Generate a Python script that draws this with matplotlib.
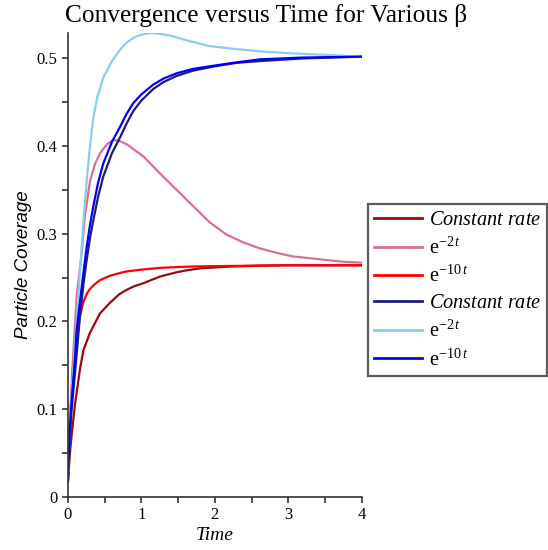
import matplotlib
matplotlib.use("Agg")
import matplotlib.pyplot as plt
from matplotlib.ticker import MultipleLocator

plt.rcParams['mathtext.fontset'] = 'custom'
plt.rcParams['mathtext.rm'] = 'Liberation Serif'
plt.rcParams['mathtext.it'] = 'Liberation Serif:italic'

# --- data ---
t_const1 = [0.0, 0.027, 0.05, 0.095, 0.163, 0.21, 0.3, 0.436, 0.57, 0.7, 0.8, 0.9, 1.03, 1.1, 1.25, 1.48, 1.6, 1.8, 2.0, 2.2, 2.6, 3.0, 3.5, 4.0]
y_const1 = [0.017, 0.05, 0.07, 0.105, 0.145, 0.167, 0.187, 0.209, 0.221, 0.231, 0.236, 0.240, 0.2436, 0.246, 0.251, 0.256, 0.258, 0.2605, 0.2615, 0.2625, 0.2635, 0.264, 0.264, 0.264]

t_exp2_1 = [0.0, 0.03, 0.07, 0.12, 0.19, 0.23, 0.3, 0.37, 0.44, 0.53, 0.62, 0.7, 0.8, 0.9, 1.03, 1.25, 1.48, 1.71, 1.93, 2.16, 2.39, 2.62, 2.85, 3.07, 3.3, 3.52, 3.75, 4.0]
y_exp2_1 = [0.02, 0.09, 0.16, 0.23, 0.28, 0.32, 0.36, 0.38, 0.392, 0.402, 0.407, 0.406, 0.402, 0.396, 0.388, 0.369, 0.35, 0.331, 0.313, 0.299, 0.29, 0.283, 0.278, 0.274, 0.272, 0.27, 0.268, 0.267]

t_exp10_1 = [0.0, 0.03, 0.07, 0.12, 0.16, 0.21, 0.26, 0.3, 0.36, 0.436, 0.57, 0.7, 0.8, 1.0, 1.25, 1.5, 1.71, 2.0, 2.5, 3.0, 4.0]
y_exp10_1 = [0.02, 0.09, 0.15, 0.185, 0.205, 0.222, 0.232, 0.237, 0.242, 0.247, 0.252, 0.255, 0.257, 0.259, 0.261, 0.262, 0.2626, 0.263, 0.2635, 0.264, 0.264]

t_const2 = [0.0, 0.027, 0.05, 0.095, 0.163, 0.21, 0.255, 0.3, 0.345, 0.41, 0.48, 0.6, 0.71, 0.8, 0.89, 1.0, 1.16, 1.3, 1.48, 1.7, 2.0, 2.3, 2.62, 3.2, 4.0]
y_const2 = [0.019, 0.07, 0.1, 0.14, 0.205, 0.242, 0.27, 0.295, 0.315, 0.342, 0.365, 0.392, 0.41, 0.426, 0.44, 0.452, 0.465, 0.473, 0.48, 0.486, 0.491, 0.495, 0.497, 0.5, 0.502]

t_exp2_2 = [0.0, 0.027, 0.05, 0.1, 0.15, 0.187, 0.22, 0.255, 0.3, 0.345, 0.4, 0.48, 0.6, 0.71, 0.8, 0.9, 1.0, 1.12, 1.25, 1.4, 1.6, 1.93, 2.25, 2.62, 3.0, 3.52, 4.0]
y_exp2_2 = [0.02, 0.09, 0.12, 0.18, 0.24, 0.285, 0.325, 0.36, 0.40, 0.432, 0.456, 0.478, 0.497, 0.51, 0.518, 0.524, 0.527, 0.529, 0.528, 0.526, 0.521, 0.514, 0.511, 0.508, 0.506, 0.504, 0.502]

t_exp10_2 = [0.0, 0.027, 0.05, 0.095, 0.118, 0.16, 0.21, 0.255, 0.3, 0.345, 0.41, 0.48, 0.6, 0.71, 0.8, 0.89, 1.0, 1.16, 1.3, 1.48, 1.7, 1.93, 2.25, 2.62, 3.2, 4.0]
y_exp10_2 = [0.019, 0.08, 0.11, 0.156, 0.19, 0.22, 0.255, 0.285, 0.31, 0.331, 0.358, 0.38, 0.405, 0.422, 0.437, 0.449, 0.459, 0.47, 0.477, 0.483, 0.488, 0.491, 0.495, 0.499, 0.501, 0.502]

series = [
    (t_const1, y_const1, '#9b0a0a', r'$\it{Constant\ rate}$'),
    (t_exp2_1, y_exp2_1, '#db7093', r'$\mathrm{e}^{-2\,t}$'),
    (t_exp10_1, y_exp10_1, '#ff0000', r'$\mathrm{e}^{-10\,t}$'),
    (t_const2, y_const2, '#1c1c7a', r'$\it{Constant\ rate}$'),
    (t_exp2_2, y_exp2_2, '#87ceeb', r'$\mathrm{e}^{-2\,t}$'),
    (t_exp10_2, y_exp10_2, '#0000ff', r'$\mathrm{e}^{-10\,t}$'),
]

fig = plt.figure(figsize=(5.48, 5.50), dpi=100)
ax = fig.add_axes([0.124, 0.097, 0.536, 0.843])

for t, y, c, lab in series:
    ax.plot(t, y, color=c, lw=1.6, label=lab, solid_joinstyle='round')

ax.set_xlim(0, 4)
ax.set_ylim(0, 0.529)
ax.spines['top'].set_visible(False)
ax.spines['right'].set_visible(False)
for s in ('left', 'bottom'):
    ax.spines[s].set_linewidth(1.2)
    ax.spines[s].set_color('#333333')
ax.xaxis.set_major_locator(MultipleLocator(1))
ax.xaxis.set_minor_locator(MultipleLocator(0.5))
ax.yaxis.set_major_locator(MultipleLocator(0.1))
ax.yaxis.set_minor_locator(MultipleLocator(0.05))
ax.set_yticks([0, 0.1, 0.2, 0.3, 0.4, 0.5])
ax.set_yticklabels(['0', '0.1', '0.2', '0.3', '0.4', '0.5'])
ax.tick_params(which='both', direction='out', length=4, width=1.2, color='#333333')
for lab in ax.get_xticklabels() + ax.get_yticklabels():
    lab.set_fontfamily('Liberation Serif')
    lab.set_fontsize(12)

ax.set_xlabel('Time', fontfamily='Liberation Serif', fontstyle='italic', fontsize=14, labelpad=3)
ax.set_ylabel('Particle Coverage', fontfamily='Liberation Sans', fontstyle='italic', fontsize=13.5, labelpad=3)
fig.text(0.485, 0.972, 'Convergence versus Time for Various β', fontfamily='Liberation Serif',
         fontsize=18.3, ha='center', va='center')

leg = fig.legend(loc='upper left', bbox_to_anchor=(0.672, 0.629), fontsize=14.6,
                 frameon=True, fancybox=False, handlelength=2.35, handletextpad=0.35,
                 labelspacing=0.36, borderpad=0.3, borderaxespad=0)
leg.get_frame().set_edgecolor('#333333')
leg.get_frame().set_linewidth(1.6)
for line in leg.get_lines():
    line.set_linewidth(2.0)

fig.savefig('out.png', dpi=100)
